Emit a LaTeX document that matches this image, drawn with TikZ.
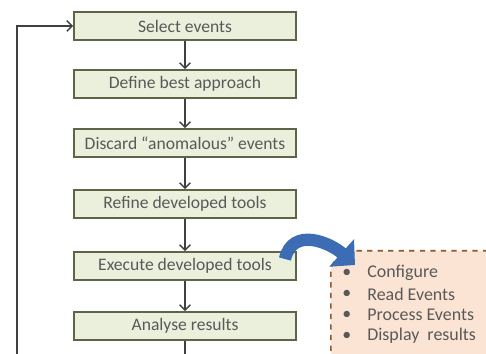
\documentclass[tikz,border=0pt]{standalone}
\usepackage{fontspec}
\setmainfont{Carlito}
\usepackage{xcolor}
\usetikzlibrary{arrows.meta,calc}

\definecolor{boxfill}{HTML}{EBF0DC}
\definecolor{boxline}{HTML}{5E6448}
\definecolor{txtgray}{HTML}{595959}
\definecolor{panelfill}{HTML}{FCE4D4}
\definecolor{panelline}{HTML}{8C5A2E}
\definecolor{arrowblue}{HTML}{3C6DB4}

\tikzset{
    stage/.style={draw=boxline, fill=boxfill, line width=1.1pt, minimum width=4.44cm,
        minimum height=0.56cm, inner sep=0pt, text=txtgray, font=\fontsize{10}{12}\selectfont},
    flow/.style={draw=black!75, line width=0.8pt, -{Straight Barb[length=3pt,width=6pt]}},
    panel/.style={draw=panelline, fill=panelfill, dashed, line width=0.9pt, rounded corners=0.45cm},
    task/.style={anchor=west, text=txtgray, inner sep=0pt, font=\fontsize{10.2}{12}\selectfont}
}

\begin{document}
\begin{tikzpicture}
    \useasboundingbox (0, 0) rectangle (9.72, -7.08);
    \clip (0, 0) rectangle (9.72, -7.08);

    % steps of the procedure
    \node[stage] (select) at (3.7, -0.52) {Select events};
    \node[stage] (define) at (3.7, -1.68) {Define best approach};
    \node[stage] (discard) at (3.7, -2.86) {Discard ``anomalous'' events};
    \node[stage] (refine) at (3.7, -4.08) {Refine developed tools};
    \node[stage] (execute) at (3.7, -5.32) {Execute developed tools};
    \node[stage] (analyse) at (3.7, -6.52) {Analyse results};

    \draw[flow] (select) -- (define);
    \draw[flow] (define) -- (discard);
    \draw[flow] (discard) -- (refine);
    \draw[flow] (refine) -- (execute);
    \draw[flow] (execute) -- (analyse);

    % loop back to the first step
    \coordinate (down) at (3.7, -7.2);
    \coordinate (back) at (0.34, -7.2);
    \draw[draw=black!75, line width=0.8pt] (analyse) -- (down);
    \draw[flow] (back) |- (select);

    % what the tools do
    \node[panel, anchor=north west, minimum width=3.6cm, minimum height=2.4cm] (tools) at (6.6, -5.0) {};
    \foreach \y/\name/\txt in {-5.46/conf/Configure, -5.88/read/Read\ Events,
            -6.30/proc/Process Events, -6.72/disp/Display\ \ results} {
        \node[task] at (6.84, \y) {\textbullet};
        \node[task] (\name) at (7.34, \y) {\txt};
    }

    \draw[arrowblue, line width=7pt, -{Triangle[length=0.36cm,width=0.72cm]}]
        ($(execute.north east)+(-0.24,-0.16)$) .. controls ++(0.15,0.65) and ++(-0.5,0.45) .. ($(tools.north west)+(0.5,-0.3)$);
\end{tikzpicture}
\end{document}
